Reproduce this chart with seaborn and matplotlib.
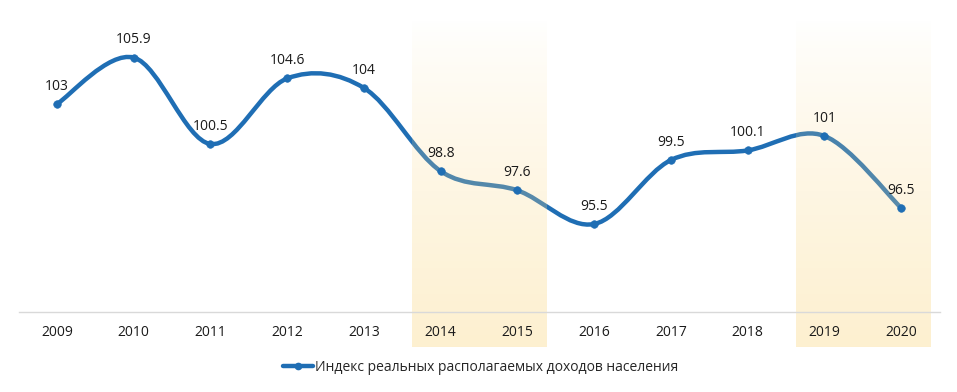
import numpy as np
import pandas as pd
import matplotlib
matplotlib.use("Agg")
import matplotlib.pyplot as plt
import seaborn as sns
from matplotlib.path import Path
from matplotlib.patches import PathPatch
from matplotlib.lines import Line2D

years = ["2009", "2010", "2011", "2012", "2013", "2014", "2015", "2016", "2017", "2018", "2019", "2020"]
values = [103, 105.9, 100.5, 104.6, 104, 98.8, 97.6, 95.5, 99.5, 100.1, 101, 96.5]
value_labels = ["103", "105.9", "100.5", "104.6", "104", "98.8", "97.6", "95.5", "99.5", "100.1", "101", "96.5"]
highlight_ranges = [("2014", "2015"), ("2019", "2020")]
series_name = "Индекс реальных располагаемых доходов населения"

sns.set_theme(style="white")
plt.rcParams["font.family"] = ["Open Sans", "DejaVu Sans"]

line_color = "#1F6EB4"
df = pd.DataFrame({"year": years, "value": values})
df["pos"] = np.arange(len(years))

fig = plt.figure(figsize=(9.57, 3.92), dpi=100)
ax = fig.add_axes([18.6 / 957, 80 / 392, 921 / 957, 304 / 392])
ax.set_xlim(-0.5, len(years) - 0.5)
ax.set_ylim(90, 109)

# smooth (Excel-like) curve via cubic Bezier segments through the data points
xs = df["pos"].to_numpy(dtype=float)
ys = df["value"].to_numpy(dtype=float)
verts = [(xs[0], ys[0])]
codes = [Path.MOVETO]
n = len(xs)
for i in range(n - 1):
    p0 = np.array([xs[max(i - 1, 0)], ys[max(i - 1, 0)]])
    p1 = np.array([xs[i], ys[i]])
    p2 = np.array([xs[i + 1], ys[i + 1]])
    p3 = np.array([xs[min(i + 2, n - 1)], ys[min(i + 2, n - 1)]])
    c1 = p1 + (p2 - p0) / 6.0
    c2 = p2 - (p3 - p1) / 6.0
    verts += [tuple(c1), tuple(c2), tuple(p2)]
    codes += [Path.CURVE4] * 3
ax.add_patch(PathPatch(Path(verts, codes), facecolor="none", edgecolor=line_color,
                       lw=3.2, capstyle="round", joinstyle="round", zorder=2))

sns.scatterplot(data=df, x="pos", y="value", ax=ax, color=line_color, s=30,
                edgecolor=line_color, zorder=3, legend=False)

# gradient highlight bands
grad = np.linspace(0, 1, 256).reshape(-1, 1)
rgba = np.zeros((256, 1, 4))
rgba[..., 0] = 0.985
rgba[..., 1] = 0.86
rgba[..., 2] = 0.56
rgba[..., 3] = 0.42 * grad[::-1] ** 0.8
for a, b in highlight_ranges:
    i0, i1 = years.index(a), years.index(b)
    ax.imshow(rgba[::-1], extent=[i0 - 0.37, i1 + 0.38, 87.8, 108.3],
              aspect="auto", origin="upper", zorder=2.2, clip_on=False,
              interpolation="bilinear")

for x, y, t in zip(xs, ys, value_labels):
    ax.annotate(t, (x, y), xytext=(0, 7.5), textcoords="offset points",
                ha="center", va="bottom", fontsize=10, color="#1a1a1a", zorder=5)

ax.set_xticks(xs)
ax.set_xticklabels(years, fontsize=10, color="#1a1a1a")
ax.tick_params(axis="x", length=0, pad=9)
ax.xaxis.set_zorder(4)
ax.set_yticks([])
ax.set_xlabel("")
ax.set_ylabel("")
for s in ["top", "left", "right"]:
    ax.spines[s].set_visible(False)
ax.spines["bottom"].set_color("#D9D9D9")
ax.spines["bottom"].set_linewidth(1)
ax.set_facecolor("none")

handle = Line2D([0], [0], color=line_color, lw=3.2, marker="o", markersize=4.5)
fig.legend([handle], [series_name], loc="center", bbox_to_anchor=(0.502, 0.062),
           frameon=False, fontsize=10, handlelength=2.2, handletextpad=0.1)

fig.savefig("out.png", dpi=100)
